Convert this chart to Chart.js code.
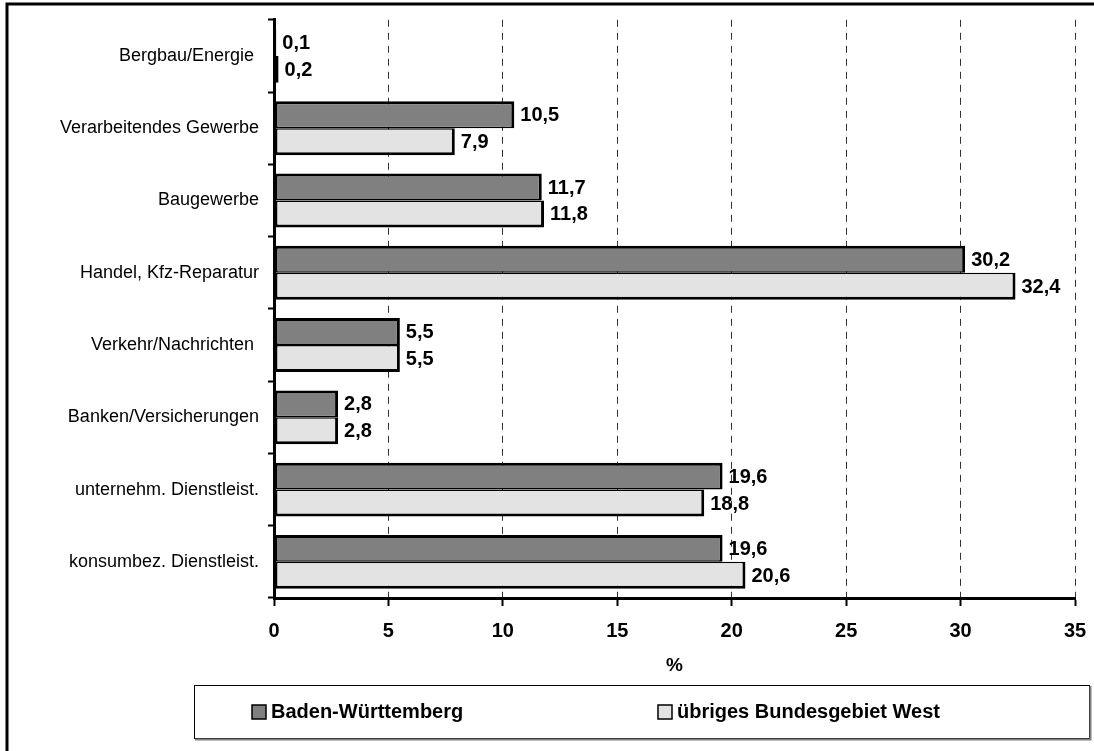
<!DOCTYPE html>
<html>
<head>
<meta charset="utf-8">
<script src="https://cdn.jsdelivr.net/npm/chart.js@4.4.1/dist/chart.umd.min.js"></script>
<style>
  html, body { margin: 0; padding: 0; background: #fff; }
  #wrap { width: 1094px; height: 751px; }
</style>
</head>
<body>
<div id="wrap"><canvas id="graphique" width="1094" height="751"></canvas></div>
<script>
// Branchen (Beschriftungen der y-Achse)
const branchen = [
    'Bergbau/Energie ',
    'Verarbeitendes Gewerbe',
    'Baugewerbe',
    'Handel, Kfz-Reparatur',
    'Verkehr/Nachrichten ',
    'Banken/Versicherungen',
    'unternehm. Dienstleist.',
    'konsumbez. Dienstleist.'
];

// Anteile in %
const badenWuerttemberg = [0.1, 10.5, 11.7, 30.2, 5.5, 2.8, 19.6, 19.6];
const uebrigesWest = [0.2, 7.9, 11.8, 32.4, 5.5, 2.8, 18.8, 20.6];

const serienNamen = ['Baden-Württemberg', 'übriges Bundesgebiet West'];
const xTicks = [0, 5, 10, 15, 20, 25, 30, 35];

const FONT = 'Arial, "Liberation Sans", sans-serif';

// Rahmen, Werte an den Balken und Legende mit Kasten
const extras = {
    id: 'extras',
    afterDatasetsDraw(chart) {
        const ctx = chart.ctx;
        ctx.save();
        ctx.font = 'bold 20px ' + FONT;
        ctx.fillStyle = '#000';
        ctx.textAlign = 'left';
        ctx.textBaseline = 'middle';
        chart.data.datasets.forEach((ds, i) => {
            chart.getDatasetMeta(i).data.forEach((bar, j) => {
                const txt = ds.data[j].toFixed(1).replace('.', ',');
                ctx.fillText(txt, bar.x + 6, bar.y + 1);
            });
        });
        ctx.restore();
    },
    afterDraw(chart) {
        const ctx = chart.ctx;
        ctx.save();
        // äußerer Rahmen (oben und links)
        ctx.strokeStyle = '#000';
        ctx.lineWidth = 3;
        ctx.beginPath();
        ctx.moveTo(7, 751);
        ctx.lineTo(7, 4);
        ctx.lineTo(1094, 4);
        ctx.stroke();

        // Legendenkasten
        ctx.lineWidth = 1;
        ctx.strokeStyle = '#000';
        ctx.strokeRect(194.5, 685.5, 895, 53);
        ctx.strokeStyle = '#808080';
        ctx.lineWidth = 2;
        ctx.beginPath();
        ctx.moveTo(195, 739.5);
        ctx.lineTo(1090.5, 739.5);
        ctx.lineTo(1090.5, 686);
        ctx.stroke();

        const xs = [252, 658];
        ctx.font = 'bold 20px ' + FONT;
        ctx.textBaseline = 'middle';
        ctx.textAlign = 'left';
        chart.data.datasets.forEach((ds, i) => {
            ctx.fillStyle = ds.backgroundColor;
            ctx.fillRect(xs[i], 705, 14, 14);
            ctx.strokeStyle = '#000';
            ctx.lineWidth = 1.5;
            ctx.strokeRect(xs[i], 705, 14, 14);
            ctx.fillStyle = '#000';
            ctx.fillText(ds.label, xs[i] + 19, 712);
        });
        ctx.restore();
    }
};

const ctx = document.getElementById('graphique').getContext('2d');
new Chart(ctx, {
    type: 'bar',
    data: {
        labels: branchen,
        datasets: [{
            label: serienNamen[0],
            data: badenWuerttemberg,
            backgroundColor: '#808080',
            borderColor: '#000',
            borderWidth: { top: 3, right: 3, bottom: 1.5, left: 3 },
            borderSkipped: false,
            categoryPercentage: 0.745,
            barPercentage: 1
        }, {
            label: serienNamen[1],
            data: uebrigesWest,
            backgroundColor: '#e3e3e3',
            borderColor: '#000',
            borderWidth: { top: 1.5, right: 3, bottom: 3, left: 3 },
            borderSkipped: false,
            categoryPercentage: 0.745,
            barPercentage: 1
        }]
    },
    options: {
        indexAxis: 'y', // horizontale Balken
        responsive: false,
        animation: false,
        layout: { padding: { left: 0, right: 19, top: 17, bottom: 73 } },
        scales: {
            x: {
                min: 0,
                max: 35,
                afterBuildTicks: (scale) => { scale.ticks = xTicks.map(v => ({ value: v })); },
                afterFit: (scale) => {
                    scale.height = 80;
                    scale.paddingLeft = 0;
                    scale.paddingRight = 0;
                },
                grid: {
                    color: (c) => c.tick && c.tick.value === 0 ? 'rgba(0,0,0,0)' : '#333',
                    tickColor: '#000',
                    lineWidth: 1,
                    tickWidth: 2,
                    tickLength: 8,
                    drawTicks: true
                },
                border: { display: true, color: '#000', width: 3, dash: [7, 6] },
                ticks: {
                    color: '#000',
                    font: { family: FONT, size: 20, weight: 'bold' },
                    padding: 13,
                    maxRotation: 0
                },
                title: {
                    display: true,
                    text: '%',
                    color: '#000',
                    font: { family: FONT, size: 19, weight: 'bold' },
                    padding: { top: 0, bottom: 1 }
                }
            },
            y: {
                afterFit: (scale) => { scale.width = 274; },
                grid: {
                    offset: true,
                    drawOnChartArea: false,
                    drawTicks: true,
                    tickLength: 6,
                    tickColor: '#000',
                    tickWidth: 2
                },
                border: { display: true, color: '#000', width: 3 },
                ticks: {
                    color: '#000',
                    font: { family: FONT, size: 18 },
                    padding: 9,
                    autoSkip: false
                }
            }
        },
        plugins: {
            legend: { display: false },
            tooltip: { enabled: false }
        }
    },
    plugins: [extras]
});
</script>
</body>
</html>
